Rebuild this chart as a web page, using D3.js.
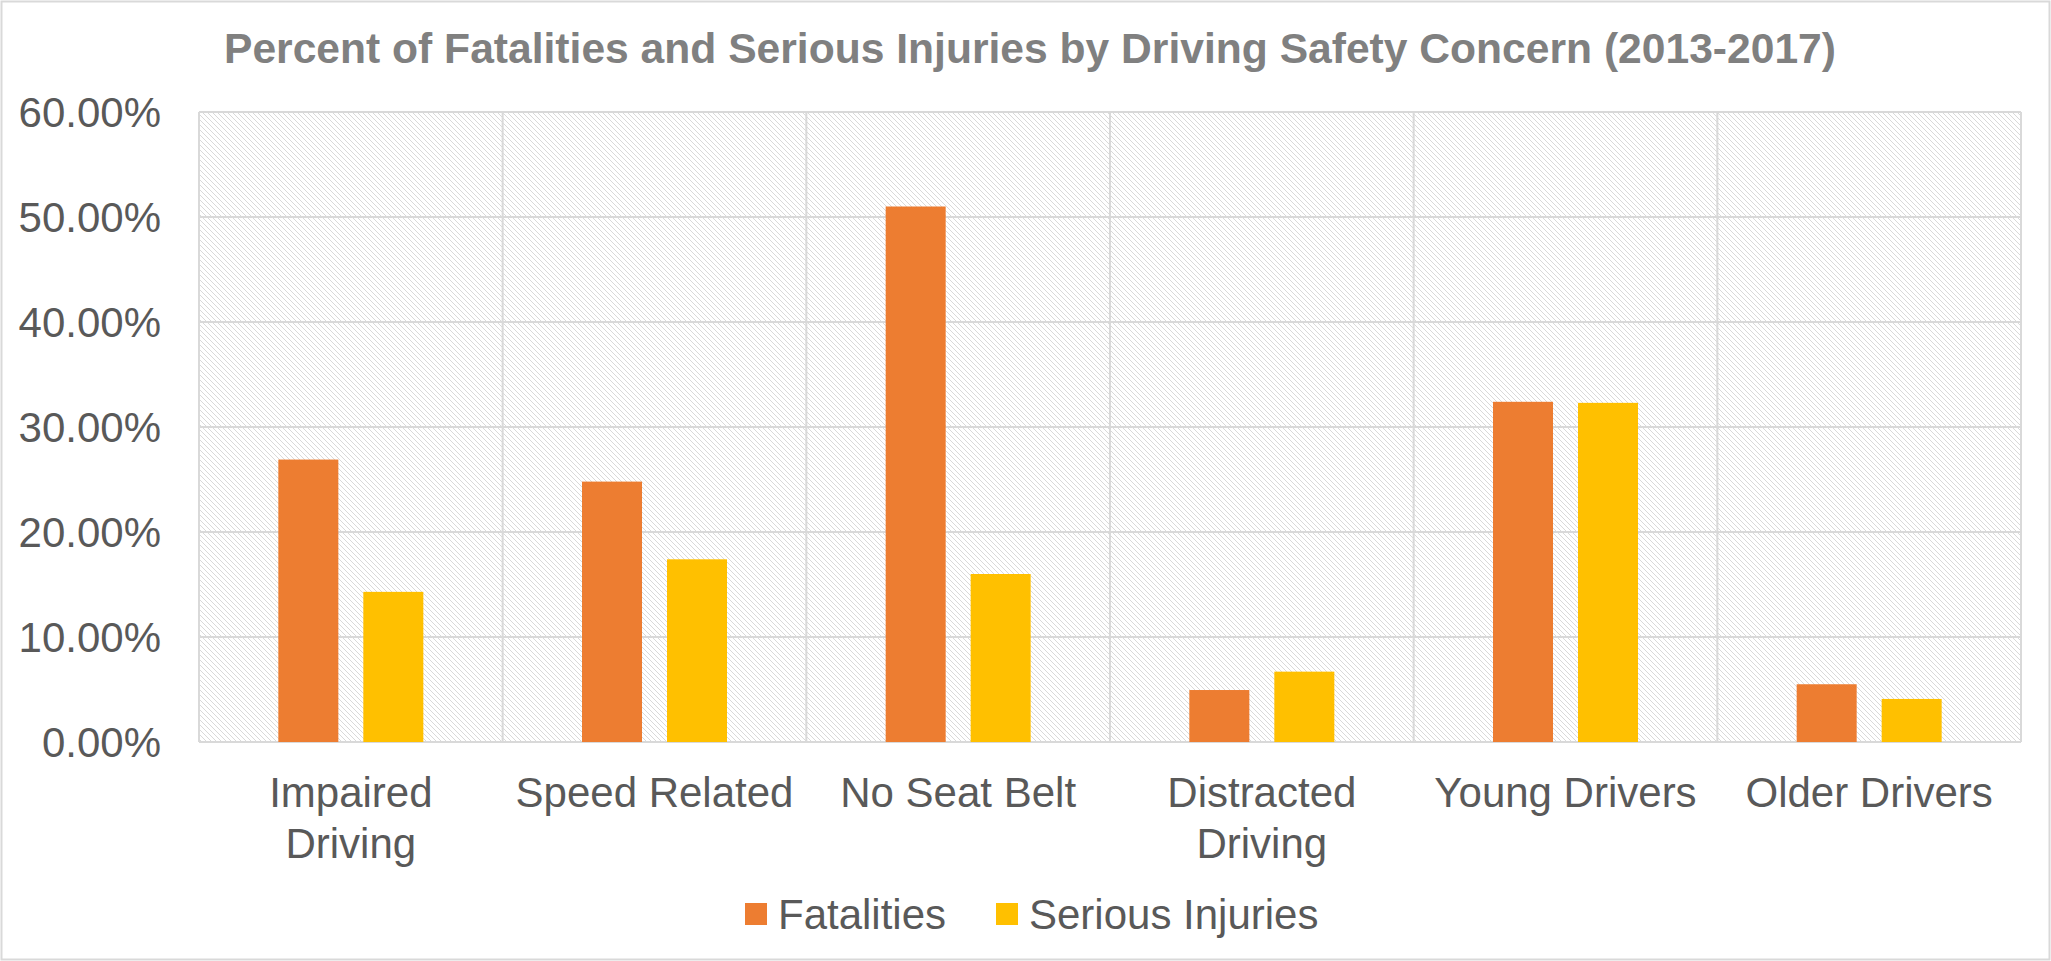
<!DOCTYPE html>
<html>
<head>
<meta charset="utf-8">
<script src="https://cdn.jsdelivr.net/npm/d3@7"></script>
<style>
  html, body { margin: 0; padding: 0; background: #fff; }
  svg { display: block; }
  text { font-family: "Liberation Sans", Arial, sans-serif; }
</style>
</head>
<body>
<script>
const categories = ["Impaired Driving", "Speed Related", "No Seat Belt", "Distracted Driving", "Young Drivers", "Older Drivers"];
const categoryLines = [["Impaired", "Driving"], ["Speed Related"], ["No Seat Belt"], ["Distracted", "Driving"], ["Young Drivers"], ["Older Drivers"]];
const seriesNames = ["Fatalities", "Serious Injuries"];
const fatalities = [0.269, 0.248, 0.510, 0.0495, 0.324, 0.055];
const seriousInjuries = [0.143, 0.174, 0.160, 0.067, 0.323, 0.041];
const yTicks = [0, 0.1, 0.2, 0.3, 0.4, 0.5, 0.6];
const colors = ["#ED7D31", "#FFC000"];
const title = "Percent of Fatalities and Serious Injuries by Driving Safety Concern (2013-2017)";

const W = 2051, H = 961;
const plot = { left: 199, right: 2021, top: 112, bottom: 742 };

const svg = d3.select("body").append("svg").attr("width", W).attr("height", H);

// outer border
svg.append("rect").attr("x", 1.5).attr("y", 1.5).attr("width", W - 3).attr("height", H - 3)
  .attr("fill", "#fff").attr("stroke", "#d9d9d9").attr("stroke-width", 2);

// hatch pattern
const defs = svg.append("defs");
const pat = defs.append("pattern").attr("id", "hatch").attr("patternUnits", "userSpaceOnUse")
  .attr("width", 5).attr("height", 5);
pat.append("rect").attr("width", 5).attr("height", 5).attr("fill", "#fff");
pat.append("path").attr("d", "M-1,-1 L6,6 M-1,4 L1,6 M4,-1 L6,1")
  .attr("stroke", "#d9d9d9").attr("stroke-width", 1);

const x0 = d3.scaleBand().domain(categories).range([plot.left, plot.right]).paddingInner(0).paddingOuter(0);
const x1 = d3.scaleBand().domain(seriesNames).range([0, x0.bandwidth()]).paddingInner(0.294).paddingOuter(0.9335);
const y = d3.scaleLinear().domain([0, 0.6]).range([plot.bottom, plot.top]);

svg.append("rect").attr("x", plot.left).attr("y", plot.top)
  .attr("width", plot.right - plot.left).attr("height", plot.bottom - plot.top)
  .attr("fill", "url(#hatch)");

// horizontal gridlines
svg.append("g").selectAll("line").data(yTicks).join("line")
  .attr("x1", plot.left).attr("x2", plot.right)
  .attr("y1", d => y(d)).attr("y2", d => y(d))
  .attr("stroke", "#d9d9d9").attr("stroke-width", 2);

// vertical category lines
const bounds = categories.map(c => x0(c)).concat([plot.right]);
svg.append("g").selectAll("line").data(bounds).join("line")
  .attr("x1", d => d).attr("x2", d => d)
  .attr("y1", plot.top).attr("y2", plot.bottom)
  .attr("stroke", "#d9d9d9").attr("stroke-width", 2);

// bars
const seriesData = [fatalities, seriousInjuries];
seriesData.forEach((vals, si) => {
  svg.append("g").selectAll("rect").data(vals).join("rect")
    .attr("x", (d, i) => x0(categories[i]) + x1(seriesNames[si]))
    .attr("width", x1.bandwidth())
    .attr("y", d => y(d))
    .attr("height", d => y(0) - y(d))
    .attr("fill", colors[si]);
});

// y axis
const yAxis = d3.axisLeft(y).tickValues(yTicks).tickFormat(d3.format(".2%")).tickSize(0).tickPadding(0);
const yg = svg.append("g").attr("transform", `translate(${161},0)`).call(yAxis);
yg.select(".domain").remove();
yg.selectAll("text").attr("font-size", 42).attr("fill", "#595959")
  .attr("font-family", '"Liberation Sans", Arial, sans-serif').attr("dy", "0.35em");

// category labels
const catG = svg.append("g");
categories.forEach((c, i) => {
  const cx = x0(c) + x0.bandwidth() / 2;
  const t = catG.append("text").attr("text-anchor", "middle").attr("font-size", 42).attr("fill", "#595959");
  categoryLines[i].forEach((ln, li) => {
    t.append("tspan").attr("x", cx).attr("y", 807 + li * 51).text(ln);
  });
});

// title
svg.append("text").attr("x", 1030).attr("y", 63).attr("text-anchor", "middle")
  .attr("font-size", 42.6).attr("font-weight", "bold").attr("fill", "#808080").text(title);

// legend
const legendItems = [{ name: seriesNames[0], color: colors[0], x: 745 }, { name: seriesNames[1], color: colors[1], x: 996 }];
const lg = svg.append("g");
legendItems.forEach(it => {
  lg.append("rect").attr("x", it.x).attr("y", 903).attr("width", 22).attr("height", 22).attr("fill", it.color);
  lg.append("text").attr("x", it.x + 33).attr("y", 929).attr("font-size", 42).attr("fill", "#595959").text(it.name);
});
</script>
</body>
</html>
